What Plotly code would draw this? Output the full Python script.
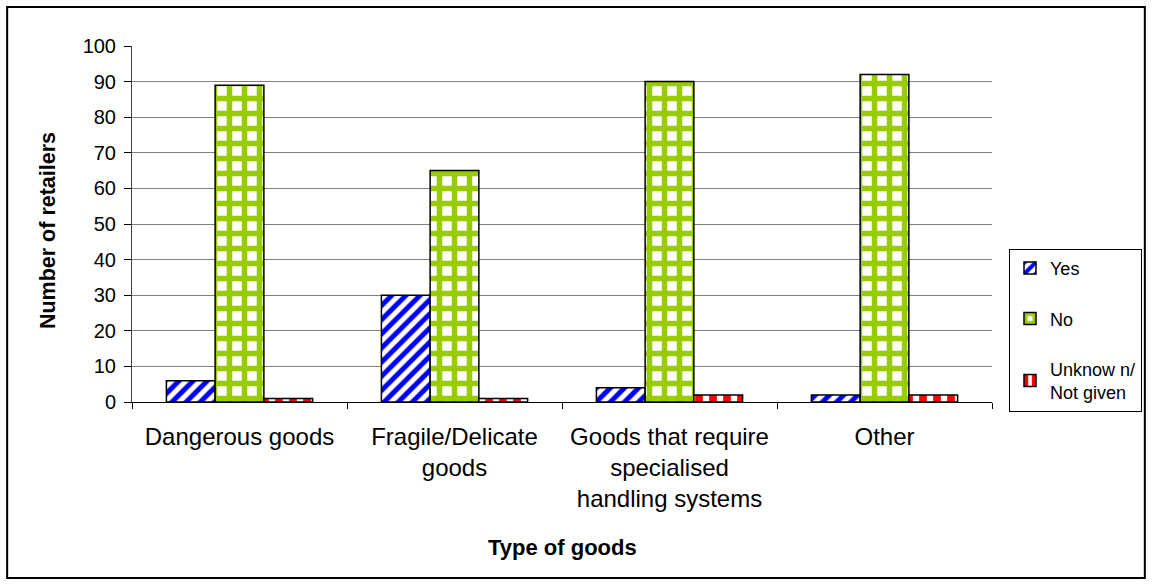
import plotly.graph_objects as go

categories = [
    "Dangerous goods",
    "Fragile/Delicate<br>goods",
    "Goods that require<br>specialised<br>handling systems",
    "Other",
]
yes_values = [6, 30, 4, 2]
no_values = [89, 65, 90, 92]
unknown_values = [1, 1, 2, 2]

series = [
    ("Yes", yes_values, dict(shape="/", fgcolor="#0000ff", bgcolor="#ffffff", size=10, solidity=0.5, fgopacity=1)),
    ("No", no_values, dict(shape="+", fgcolor="#99cc00", bgcolor="#ffffff", size=15, solidity=0.6, fgopacity=1)),
    ("Unknow n/<br>Not given", unknown_values, dict(shape="|", fgcolor="#ff0000", bgcolor="#ffffff", size=14, solidity=0.55, fgopacity=1)),
]

FONT = "Liberation Sans, Arial, sans-serif"

fig = go.Figure()
for i, (name, vals, pattern) in enumerate(series):
    fig.add_trace(go.Bar(
        x=categories,
        y=vals,
        name=name,
        legendgroup=f"g{i}",
        marker=dict(color="#ffffff", pattern=pattern,
                    line=dict(color="#000000", width=1.5)),
    ))

fig.update_layout(
    width=1153,
    height=585,
    margin=dict(l=132, r=160, t=46, b=183),
    paper_bgcolor="#ffffff",
    plot_bgcolor="#ffffff",
    barmode="group",
    bargap=0.32,
    bargroupgap=0,
    font=dict(family=FONT, color="#000000"),
    showlegend=True,
    legend=dict(
        x=1.0186, xanchor="left",
        y=0.43, yanchor="top",
        bordercolor="#000000", borderwidth=1,
        font=dict(size=18, family=FONT),
        tracegroupgap=24,
        traceorder="grouped",
        itemwidth=30,
    ),
    xaxis=dict(
        type="category",
        showline=True, linecolor="#000000", linewidth=1,
        ticks="outside", ticklen=6, tickcolor="#000000",
        tickson="boundaries",
        tickfont=dict(size=24, family=FONT),
        ticklabelstandoff=13,
        showgrid=False,
    ),
    yaxis=dict(
        range=[0, 100],
        dtick=10,
        showline=True, linecolor="#404040", linewidth=1,
        ticks="outside", ticklen=7, tickcolor="#000000",
        tickfont=dict(size=20, family=FONT),
        ticklabelstandoff=4,
        showgrid=True, gridcolor="#808080", gridwidth=1,
        zeroline=False,
    ),
    annotations=[
        dict(text="<b>Type of goods</b>", xref="paper", yref="paper",
             x=(563 - 132) / 861, y=(402 - 547) / 356,
             xanchor="center", yanchor="middle", showarrow=False,
             font=dict(size=22, family=FONT)),
        dict(text="<b>Number of retailers</b>", xref="paper", yref="paper",
             x=(48 - 132) / 861, y=(402 - 231) / 356, textangle=-90,
             xanchor="center", yanchor="middle", showarrow=False,
             font=dict(size=21.5, family=FONT)),
    ],
    shapes=[
        dict(type="rect", xref="paper", yref="paper",
             x0=(7 - 132) / 861, x1=(1146 - 132) / 861,
             y0=(402 - 578) / 356, y1=(402 - 7) / 356,
             line=dict(color="#000000", width=2), fillcolor="rgba(0,0,0,0)",
             layer="below"),
    ],
)

fig.write_html("out.html")
